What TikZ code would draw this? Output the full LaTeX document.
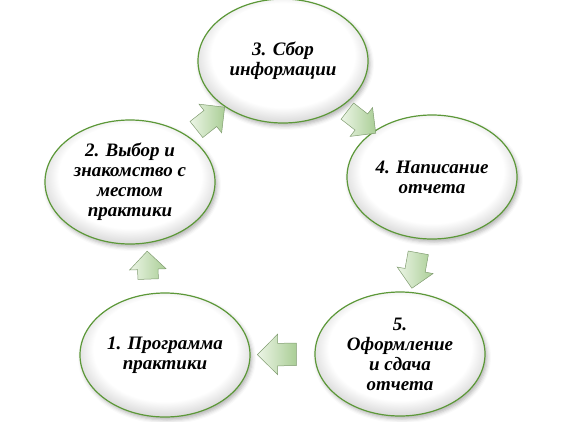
\documentclass[tikz,border=0pt]{standalone}
\usepackage{fontspec}
\setmainfont{Liberation Serif}
\usetikzlibrary{shapes.geometric,shapes.arrows,shadows.blur}
\definecolor{ellgreen}{RGB}{92,152,56}
\definecolor{shgray}{RGB}{222,222,222}
\definecolor{arrowlight}{RGB}{236,245,230}
\definecolor{arrowdark}{RGB}{170,206,150}
\definecolor{arrowedge}{RGB}{128,156,112}
\pgfdeclareradialshading{ellshade}{\pgfpoint{0bp}{4bp}}{color(0bp)=(white); color(21bp)=(white); color(26bp)=(shgray); color(50bp)=(shgray)}
\tikzset{
  ellnode/.style={ellipse, draw=ellgreen, line width=1.2pt, minimum width=170pt, minimum height=124pt,
    inner sep=0pt, align=center, shading=ellshade,
    font=\fontsize{19}{20}\selectfont\bfseries\itshape,
    blur shadow={shadow xshift=2pt, shadow yshift=-3pt, shadow blur radius=4pt, shadow opacity=30}},
  blockarrow/.style={single arrow, draw=arrowedge, line width=0.5pt, left color=arrowlight, right color=arrowdark,
    minimum height=36pt, inner xsep=0pt, inner ysep=10pt, single arrow head extend=8pt, allow upside down}
}
\begin{document}
\begin{tikzpicture}[x=1pt,y=-1pt]
\useasboundingbox (0,0) rectangle (565,421);
\node[ellnode] (e1) at (165,355) {1. Программа\\практики};
\node[ellnode] (e2) at (130,182) {2. Выбор и\\знакомство с\\местом\\практики};
\node[ellnode] (e3) at (283,61) {3. Сбор\\информации};
\node[ellnode] (e4) at (432,177) {4. Написание\\отчета};
\node[ellnode] (e5) at (400,354) {5.\\Оформление\\и сдача\\отчета};
\path (e1.center) -- node[blockarrow, rotate=92, pos=0.49, minimum height=28pt] (a12) {} (e2.center);
\path (e2.center) -- node[blockarrow, sloped] (a23) {} (e3.center);
\path (e3.center) -- node[blockarrow, sloped] (a34) {} (e4.center);
\path (e4.center) -- node[blockarrow, sloped] (a45) {} (e5.center);
\path (e5.center) -- node[blockarrow, sloped, minimum height=39pt, inner ysep=11pt, single arrow head extend=9pt] (a51) {} (e1.center);
\end{tikzpicture}
\end{document}
